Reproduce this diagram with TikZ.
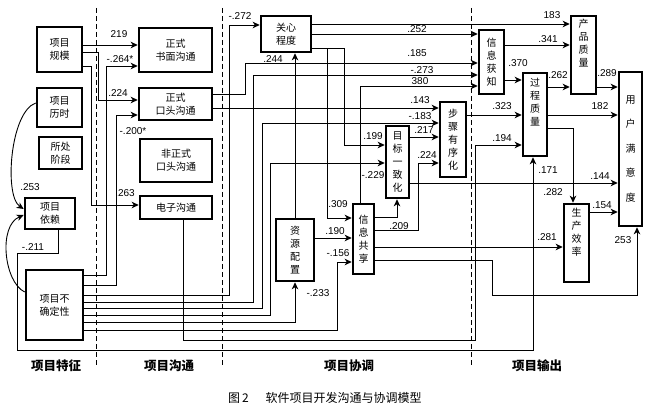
\documentclass[tikz,border=0pt]{standalone}
\usepackage{fontspec}
\setmainfont{Liberation Sans}
\newfontfamily\cjk{Noto Sans CJK SC}
\usetikzlibrary{arrows.meta}
\begin{document}
\begin{tikzpicture}[x=1pt,y=-1pt,
  box/.style={draw, line width=2.6pt, inner sep=0pt, align=center, font=\cjk\fontsize{10}{13}\selectfont},
  arr/.style={line width=0.9pt, -{Stealth[length=7pt,width=6.5pt,inset=2pt]}},
  num/.style={font=\fontsize{10}{10}\selectfont, inner sep=0pt},
  col/.style={font=\cjk\bfseries\fontsize{12.5}{12.5}\selectfont, inner sep=0pt},
  sep/.style={line width=0.8pt, dash pattern=on 5pt off 3pt}]
\useasboundingbox (0,0) rectangle (652,411);
% separators
\draw[sep] (96,8) -- (96,365);
\draw[sep] (222,8) -- (222,365);
\draw[sep] (471,8) -- (471,365);
% boxes
\node[box, minimum width=45, minimum height=45] (gm) at (59.5,49.5) {项目\\规模};
\node[box, minimum width=45, minimum height=39] (ls) at (59.5,107.5) {项目\\历时};
\node[box, minimum width=43, minimum height=32] (jd) at (60.5,153) {所处\\阶段};
\node[box, minimum width=50, minimum height=31] (yl) at (50,213.5) {项目\\依赖};
\node[box, minimum width=57, minimum height=70] (bq) at (54.5,305) {项目不\\确定性};
\node[box, minimum width=73, minimum height=44] (sm) at (175.5,50) {正式\\书面沟通};
\node[box, minimum width=73, minimum height=32] (kt) at (175.5,104) {正式\\口头沟通};
\node[box, minimum width=72, minimum height=43] (fz) at (176,160.5) {非正式\\口头沟通};
\node[box, minimum width=72, minimum height=23] (dz) at (176,207.5) {电子沟通};
\node[box, minimum width=50, minimum height=36] (gx) at (286,34) {关心\\程度};
\node[box, minimum width=38, minimum height=62] (zy) at (295,250) {资\\源\\配\\置};
\node[box, minimum width=21, minimum height=70] (xx) at (363.5,239) {信\\息\\共\\享};
\node[box, minimum width=23, minimum height=72] (mb) at (397.5,162) {目\\标\\一\\致\\化};
\node[box, minimum width=26, minimum height=75] (bz) at (453,139.5) {步\\骤\\有\\序\\化};
\node[box, minimum width=25, minimum height=64] (hz) at (491.5,62) {信\\息\\获\\知};
\node[box, minimum width=24, minimum height=83, text depth=26pt] (gc) at (535,114.5) {过\\程\\质\\量};
\node[box, minimum width=25, minimum height=78, text depth=24pt] (cp) at (583.5,55) {产\\品\\质\\量};
\node[box, minimum width=23, minimum height=154, font=\cjk\fontsize{10}{24.5}\selectfont] (my) at (630.5,149) {用\\户\\满\\意\\度};
\node[box, minimum width=25, minimum height=78, text depth=22pt] (sc) at (576.5,243) {生\\产\\效\\率};
% connectors
\draw[arr] (gm.east |- 0,45) -- (sm.west |- 0,45);
\draw[arr] (bq.east |- 0,275) -| (106,66) -- (sm.west |- 0,66);
\draw[arr] (gm.east |- 0,52) -| (98,100) -- (kt.west |- 0,100);
\draw[arr] (gm.east |- 0,66) -| (91,205) -- (dz.west |- 0,205);
\draw[arr] (bq.east |- 0,285) -| (116,115) -- (kt.west |- 0,115);
\draw[arr] (ls.west |- 0,103) .. controls (10,112) and (4,196) .. (yl.west |- 0,209);
\draw[arr] (bq.west |- 0,292) .. controls (4,282) and (-2,226) .. (yl.west |- 0,215);
\draw[arr] (yl.south -| 58,0) |- (17,253) |- (533,350) -- (gc.south -| 533,0);
\draw[arr] (bq.east |- 0,295) -| (229,25) -- (gx.west |- 0,25);
\draw[arr] (bq.east |- 0,302) -| (253,75) -- (hz.west |- 0,75);
\draw[arr] (bq.east |- 0,308) -| (262,123) -- (bz.west |- 0,123);
\draw[arr] (bq.east |- 0,315) -| (270,163) -- (mb.west |- 0,163);
\draw[arr] (bq.east |- 0,322) -| (zy.south);
\draw[arr] (bq.east |- 0,330) -| (337,262) -- (xx.west |- 0,262);
\draw[arr] (dz.south -| 183,0) |- (475,340) |- (gc.west |- 0,145);
\draw[arr] (kt.east |- 0,94) -| (245,63) -- (hz.west |- 0,63);
\draw[arr] (kt.east |- 0,108) -- (bz.west |- 0,108);
\draw[arr] (zy.north) -- (zy.north |- gx.south);
\draw[arr] (zy.east |- 0,238) -- (xx.west |- 0,238);
\draw[arr] (gx.east |- 0,48) -| (327,218) -- (xx.west |- 0,218);
\draw[arr] (gx.east |- 0,48) -| (344,145) -- (mb.west |- 0,145);
\draw[arr] (gx.east |- 0,24) -- (cp.west |- 0,24);
\draw[arr] (gx.east |- 0,34) -- (hz.west |- 0,34);
\draw[arr] (xx.north -| 360,0) |- (hz.west |- 0,86);
\draw[arr] (xx.east |- 0,217) -| (mb.south -| 397,0);
\draw[arr] (xx.east |- 0,230) -| (418,163) -- (bz.west |- 0,163);
\draw[arr] (mb.east |- 0,137) -- (bz.west |- 0,137);
\draw[arr] (mb.east |- 0,183) -- (my.west |- 0,183);
\draw[arr] (xx.east |- 0,247) -- (sc.west |- 0,247);
\draw[arr] (xx.east |- 0,260) -| (492,295) -| (my.south -| 637,0);
\draw[arr] (bz.east |- 0,115) -- (gc.west |- 0,115);
\draw[arr] (hz.east |- 0,80) -- (gc.west |- 0,80);
\draw[arr] (hz.east |- 0,45) -- (cp.west |- 0,45);
\draw[arr] (gc.east |- 0,87) -- (cp.west |- 0,87);
\draw[arr] (cp.east |- 0,87) -- (my.west |- 0,87);
\draw[arr] (gc.east |- 0,115) -- (my.west |- 0,115);
\draw[arr] (gc.east |- 0,128) -| (sc.north -| 573,0);
\draw[arr] (sc.east |- 0,212) -- (my.west |- 0,212);
% coefficients
\node[num] (n01) at (119,34) {219};
\node[num] (n02) at (120,59) {-.264*};
\node[num] (n03) at (118,93) {.224};
\node[num] (n04) at (133,131) {-.200*};
\node[num] (n05) at (125,193) {.263};
\node[num] (n06) at (30,187) {.253};
\node[num] (n07) at (33,247) {-.211};
\node[num] (n08) at (240,16) {-.272};
\node[num] (n09) at (273,59) {.244};
\node[num] (n10) at (417,29) {.252};
\node[num] (n11) at (417,53) {.185};
\node[num] (n12) at (422,70) {-.273};
\node[num] (n13) at (420,81) {380};
\node[num] (n14) at (420,100) {.143};
\node[num] (n15) at (420,116) {-.183};
\node[num] (n16) at (424,130) {.217};
\node[num] (n17) at (373,136) {.199};
\node[num] (n18) at (373,175) {-.229};
\node[num] (n19) at (427,155) {.224};
\node[num] (n20) at (338,204) {.309};
\node[num] (n21) at (335,231) {.190};
\node[num] (n22) at (338,253) {-.156};
\node[num] (n23) at (399,226) {.209};
\node[num] (n24) at (318,293) {-.233};
\node[num] (n25) at (552,15) {183};
\node[num] (n26) at (548,39) {.341};
\node[num] (n27) at (518,63) {.370};
\node[num] (n28) at (558,75) {.262};
\node[num] (n29) at (607,73) {.289};
\node[num] (n30) at (600,106) {182};
\node[num] (n31) at (502,106) {.323};
\node[num] (n32) at (502,138) {.194};
\node[num] (n33) at (548,170) {.171};
\node[num] (n34) at (600,176) {.144};
\node[num] (n35) at (553,192) {.282};
\node[num] (n36) at (602,205) {.154};
\node[num] (n37) at (623,240) {253};
\node[num] (n38) at (547,237) {.281};
% column titles
\node[col] (t1) at (56,366) {项目特征};
\node[col] (t2) at (169,366) {项目沟通};
\node[col] (t3) at (349,366) {项目协调};
\node[col] (t4) at (537,366) {项目输出};
\node[font=\cjk\fontsize{12}{12}\selectfont, inner sep=0pt, anchor=west] (cap) at (228,398) {图\,2\hspace{1.4em}软件项目开发沟通与协调模型};
\end{tikzpicture}
\end{document}
